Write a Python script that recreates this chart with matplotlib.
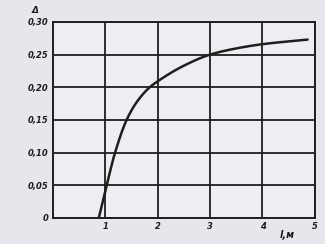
import matplotlib.pyplot as plt
import numpy as np

# kurva Δ(l)
l_pts = [0.88, 1.03, 1.19, 1.41, 1.60, 1.85, 2.0, 2.5, 3.0, 3.5, 4.0, 4.86]
d_pts = [0.0, 0.05, 0.10, 0.15, 0.177, 0.200, 0.209, 0.233, 0.250, 0.2595, 0.266, 0.273]

x_ticks = [1, 2, 3, 4, 5]
x_labels = ['1', '2', '3', '4', '5']
y_ticks = [0, 0.05, 0.10, 0.15, 0.20, 0.25, 0.30]
y_labels = ['0', '0,05', '0,10', '0,15', '0,20', '0,25', '0,30']

bg = '#e6e7ec'
ink = '#1e1e1e'


def pchip(x, y, xn):
    # monotone cubic (Fritsch-Carlson)
    x = np.asarray(x, float); y = np.asarray(y, float)
    h = np.diff(x); d = np.diff(y) / h
    m = np.zeros_like(y)
    for i in range(1, len(y) - 1):
        if d[i - 1] * d[i] > 0:
            w1 = 2 * h[i] + h[i - 1]; w2 = h[i] + 2 * h[i - 1]
            m[i] = (w1 + w2) / (w1 / d[i - 1] + w2 / d[i])
    m[0] = d[0]; m[-1] = d[-1]
    idx = np.clip(np.searchsorted(x, xn) - 1, 0, len(h) - 1)
    t = (xn - x[idx]) / h[idx]
    h00 = 2*t**3 - 3*t**2 + 1; h10 = t**3 - 2*t**2 + t
    h01 = -2*t**3 + 3*t**2; h11 = t**3 - t**2
    return h00*y[idx] + h10*h[idx]*m[idx] + h01*y[idx+1] + h11*h[idx]*m[idx+1]


fig = plt.figure(figsize=(3.25, 2.44), dpi=100, facecolor=bg)
ax = fig.add_axes([0.162, 0.107, 0.807, 0.803], facecolor='#eceef2')

xs = np.linspace(l_pts[0], l_pts[-1], 400)
ax.plot(xs, pchip(l_pts, d_pts, xs), color=ink, lw=1.8, solid_capstyle='round')

ax.set_xlim(0, 5)
ax.set_ylim(0, 0.30)
ax.set_xticks(x_ticks)
ax.set_xticklabels(x_labels)
ax.set_yticks(y_ticks)
ax.set_yticklabels(y_labels)
ax.grid(True, color=ink, lw=1.3)
for s in ax.spines.values():
    s.set_color(ink)
    s.set_linewidth(1.4)
ax.tick_params(length=0, pad=3, labelsize=6, colors=ink)
for t in ax.get_xticklabels() + ax.get_yticklabels():
    t.set_fontstyle('italic')
    t.set_fontweight('bold')

fig.text(0.108, 0.955, 'Δ', fontsize=6.5, style='italic', weight='bold', color=ink, ha='center', va='center')
fig.text(0.885, 0.035, 'l,м', fontsize=7, style='italic', weight='bold', color=ink, ha='center', va='center')

fig.savefig('out.png', dpi=100, facecolor=bg)
